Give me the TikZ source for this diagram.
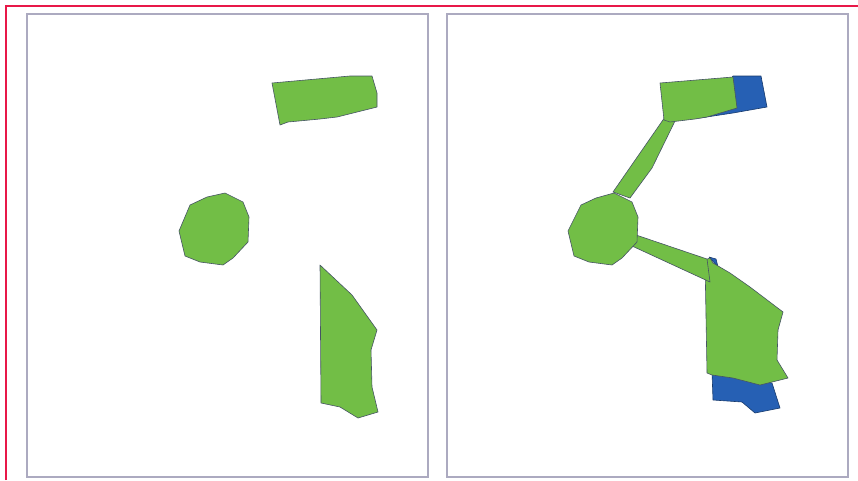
\documentclass[tikz,border=0pt]{standalone}
\usepackage{tikz}
\definecolor{leafgreen}{RGB}{114,190,70}
\definecolor{deepblue}{RGB}{38,96,180}
\definecolor{edgegrey}{RGB}{70,84,100}
\definecolor{framegrey}{RGB}{172,170,192}
\definecolor{crimson}{RGB}{232,24,72}

\begin{document}
\begin{tikzpicture}[x=1pt,y=-1pt,
        panel/.style={draw=framegrey,line width=1.6pt},
        part/.style={fill=leafgreen,draw=edgegrey,line width=0.6pt,line join=round},
        hidden/.style={fill=deepblue,draw=deepblue!60!black,line width=0.6pt,line join=round}]
            \useasboundingbox (0,0) rectangle (858,480);
            \draw [crimson,line width=2.4pt] (6,480) -- (6,6) -- (858,6);
            \draw [panel] (27,14) rectangle (428,477);
            \draw [panel] (447,14) rectangle (848,477);
            \draw [part] (272,83) -- (350,76) -- (372,76) -- (377,93) -- (377,107) -- (337,117) -- (320,119) -- (288,122) -- (280,125) -- cycle;
            \draw [part] (190,205) -- (207,197) -- (225,193) -- (243,202) -- (249,217) -- (248,242) -- (233,258) -- (223,265) -- (200,262) -- (185,256) -- (179,231) -- cycle;
            \draw [part] (320,265) -- (352,295) -- (377,330) -- (371,350) -- (372,387) -- (378,412) -- (358,418) -- (340,407) -- (321,403) -- cycle;
            \draw [hidden] (733,76) -- (761,76) -- (767,107) -- (733,113) -- (700,118) -- cycle;
            \draw [hidden] (712,372) -- (713,400) -- (742,402) -- (755,413) -- (780,408) -- (772,383) -- cycle;
            \draw [hidden] (709,257) -- (716,259) -- (718,267) -- cycle;
            \draw [part] (665,117) -- (675,121) -- (652,168) -- (630,198) -- (613,192) -- cycle;
            \draw [part] (660,83) -- (733,77) -- (737,108) -- (707,117) -- (695,119) -- (670,122) -- (664,120) -- cycle;
            \draw [part] (705,260) -- (710,258) -- (713,263) -- (730,273) -- (750,287) -- (783,312) -- (778,330) -- (777,360) -- (788,378) -- (760,385) -- (733,378) -- (712,375) -- (707,373) -- cycle;
            \draw [part] (636,235) -- (707,259) -- (710,282) -- (632,246) -- cycle;
            \draw [part] (581,205) -- (596,198) -- (614,193) -- (632,202) -- (638,217) -- (637,242) -- (622,258) -- (612,265) -- (589,262) -- (574,256) -- (568,231) -- cycle;
        \end{tikzpicture}
\end{document}
